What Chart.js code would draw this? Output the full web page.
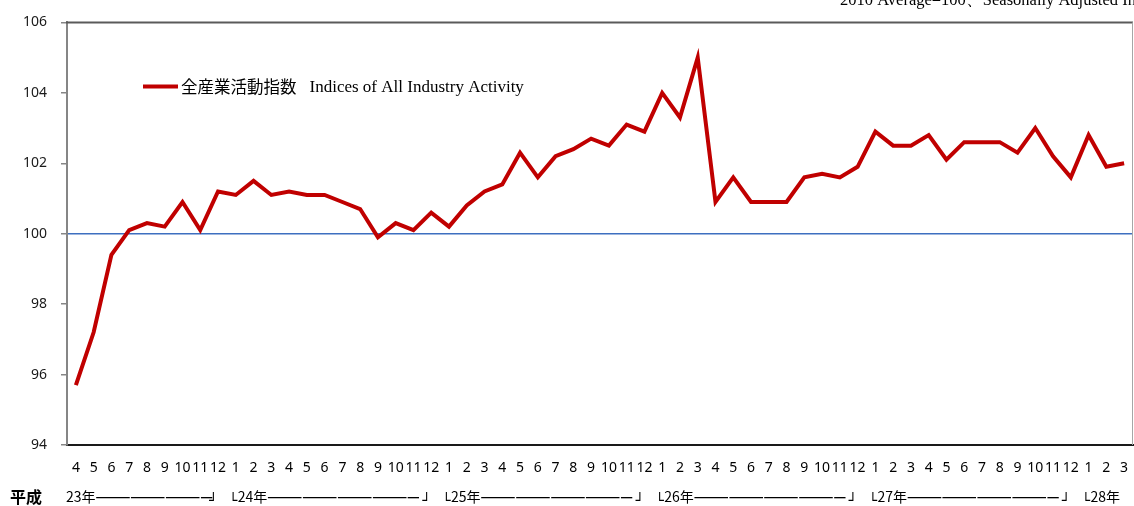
<!DOCTYPE html>
<html>
<head>
<meta charset="utf-8">
<script src="https://cdn.jsdelivr.net/npm/chart.js@4.4.0/dist/chart.umd.min.js"></script>
<style>
html, body { margin: 0; padding: 0; background: #fff; }
canvas { display: block; }
</style>
</head>
<body>
<canvas id="chart" width="1134" height="506"></canvas>
<script>
// months, H23/4 .. H28/3
const monthLabels = ['4','5','6','7','8','9','10','11','12',
	'1','2','3','4','5','6','7','8','9','10','11','12',
	'1','2','3','4','5','6','7','8','9','10','11','12',
	'1','2','3','4','5','6','7','8','9','10','11','12',
	'1','2','3','4','5','6','7','8','9','10','11','12',
	'1','2','3'];
const yearNames = ['23年', '24年', '25年', '26年', '27年', '28年'];
const eraName = '平成';

const activityIndex = [95.7, 97.2, 99.4, 100.1, 100.3, 100.2, 100.9, 100.1, 101.2,
	101.1, 101.5, 101.1, 101.2, 101.1, 101.1, 100.9, 100.7, 99.9, 100.3, 100.1, 100.6,
	100.2, 100.8, 101.2, 101.4, 102.3, 101.6, 102.2, 102.4, 102.7, 102.5, 103.1, 102.9,
	104.0, 103.3, 105.0, 100.9, 101.6, 100.9, 100.9, 100.9, 101.6, 101.7, 101.6, 101.9,
	102.9, 102.5, 102.5, 102.8, 102.1, 102.6, 102.6, 102.6, 102.3, 103.0, 102.2, 101.6,
	102.8, 101.9, 102.0];

const yTicks = [94, 96, 98, 100, 102, 104, 106];
const seriesJa = '全産業活動指数';
const seriesEn = 'Indices of All Industry Activity';
const noteText = '2010 Average=100、Seasonally Adjusted Index';

const sansCJK = '"Noto Sans CJK JP", "Noto Sans", sans-serif';

// frame, legend, note and the era row under the month labels
const decorations = {
	id: 'decorations',
	afterDraw(chart) {
		const ctx = chart.ctx;
		const a = chart.chartArea;
		const x = chart.scales.x;
		ctx.save();

		ctx.strokeStyle = '#5a5a5a';
		ctx.lineWidth = 2;
		ctx.beginPath(); ctx.moveTo(a.left - 1, a.top); ctx.lineTo(a.right, a.top); ctx.stroke();
		ctx.strokeStyle = '#a6a6a6';
		ctx.lineWidth = 1;
		ctx.beginPath(); ctx.moveTo(a.right - 0.5, a.top); ctx.lineTo(a.right - 0.5, a.bottom); ctx.stroke();

		// note at the top, cut off by the page edge
		ctx.fillStyle = '#000';
		ctx.font = '16.5px "Liberation Serif", serif';
		ctx.textBaseline = 'alphabetic';
		ctx.textAlign = 'left';
		ctx.fillText(noteText, 840, 5);

		// legend
		const ly = a.top + 64;
		ctx.strokeStyle = '#c00000';
		ctx.lineWidth = 4;
		ctx.beginPath(); ctx.moveTo(a.left + 76, ly); ctx.lineTo(a.left + 111, ly); ctx.stroke();
		ctx.textBaseline = 'middle';
		ctx.font = '16.5px ' + sansCJK;
		ctx.fillText(seriesJa, a.left + 114, ly);
		const jw = ctx.measureText(seriesJa).width;
		ctx.font = '17px "Liberation Serif", serif';
		ctx.fillText(seriesEn, a.left + 114 + jw + 13, ly + 1);

		// era row
		const ry = 497;
		const corner = 'bold 14px "DejaVu Sans", sans-serif';
		ctx.font = 'bold 16px ' + sansCJK;
		ctx.fillStyle = '#000';
		ctx.fillText(eraName, 10, ry);
		const starts = [0];
		monthLabels.forEach((m, i) => { if (m === '1') starts.push(i); });
		starts.forEach((s, g) => {
			let tx = x.getPixelForValue(s) - (g === 0 ? 10 : 3);
			if (g > 0) {
				ctx.font = corner;
				ctx.textBaseline = 'alphabetic';
				ctx.fillText('└', tx - 4, ry + 8);
				ctx.textBaseline = 'middle';
				tx += 5;
			}
			ctx.font = '14px ' + sansCJK;
			ctx.fillText(yearNames[g], tx, ry);
			tx += ctx.measureText(yearNames[g]).width;
			if (g + 1 < starts.length) {
				const endX = x.getPixelForValue(starts[g + 1] - 1) - 3;
				ctx.font = 'bold 14px ' + sansCJK;
				const dw = ctx.measureText('—').width;
				const n = Math.ceil((endX - tx) / dw);
				ctx.fillText('—'.repeat(Math.max(n, 1)), tx, ry, endX - tx + 2);
				ctx.font = corner;
				ctx.textBaseline = 'alphabetic';
				ctx.fillText('┘', endX - 6, ry + 8);
				ctx.textBaseline = 'middle';
			}
		});
		ctx.restore();
	}
};

new Chart(document.getElementById('chart'), {
	type: 'line',
	data: {
		labels: monthLabels,
		datasets: [{
			label: seriesJa + '  ' + seriesEn,
			data: activityIndex,
			borderColor: '#c00000',
			backgroundColor: '#c00000',
			borderWidth: 4,
			pointRadius: 0,
			tension: 0,
			fill: false
		}]
	},
	options: {
		responsive: false,
		animation: false,
		layout: { padding: { top: 20, right: 1, left: 0, bottom: 0 } },
		plugins: {
			legend: { display: false },
			tooltip: { enabled: false }
		},
		scales: {
			x: {
				offset: true,
				grid: { drawOnChartArea: false, drawTicks: false },
				border: { color: '#1a1a1a', width: 2 },
				ticks: {
					autoSkip: false,
					maxRotation: 0,
					minRotation: 0,
					padding: 15,
					color: '#000',
					font: { family: '"Noto Sans", sans-serif', size: 14 }
				},
				afterFit(scale) {
					scale.height = 61;
					scale.paddingLeft = 0;
					scale.paddingRight = 0;
				}
			},
			y: {
				min: 94,
				max: 106,
				afterBuildTicks(scale) { scale.ticks = yTicks.map(v => ({ value: v })); },
				grid: {
					color: c => c.tick && c.tick.value === 100 ? '#3d6fc0' : 'rgba(0,0,0,0)',
					lineWidth: 1.5,
					tickLength: 6,
					tickColor: '#868686'
				},
				border: { color: '#868686', width: 2 },
				ticks: {
					padding: 14,
					color: '#1a1a1a',
					font: { family: '"Noto Sans", sans-serif', size: 14 }
				},
				afterFit(scale) { scale.width = 67; }
			}
		}
	},
	plugins: [decorations]
});
</script>
</body>
</html>
